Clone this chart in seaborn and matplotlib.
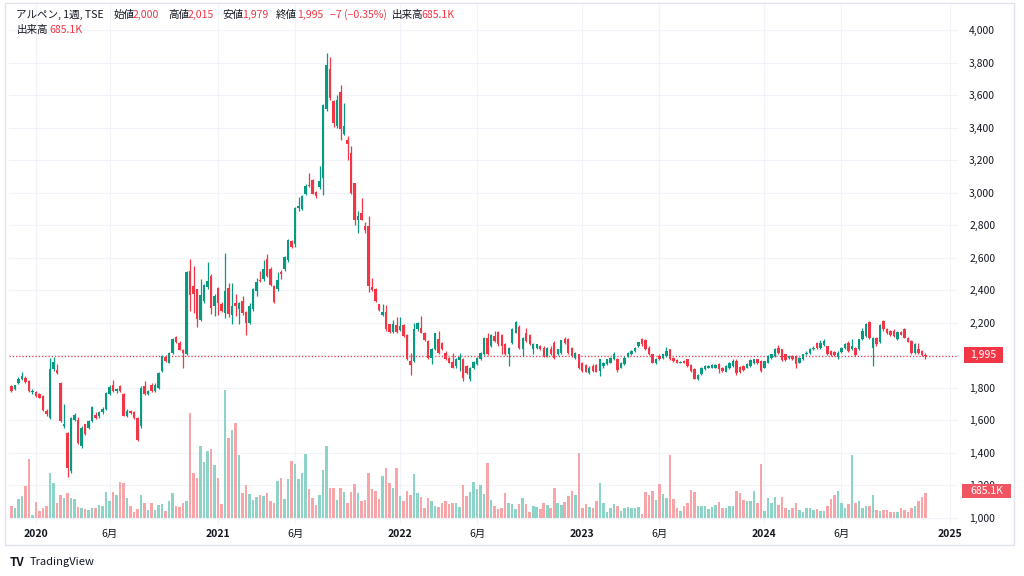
import numpy as np
import pandas as pd
import matplotlib
matplotlib.use('Agg')
import matplotlib.pyplot as plt
from matplotlib.patches import Rectangle
import seaborn as sns

# 週足データ (2019-11-18 の週から 2024-11-18 の週まで)
week_start = '2019-11-18'

opens = [
    1810, 1790, 1830, 1855, 1862, 1845, 1772, 1775, 1765, 1750,
    1660, 1615, 1915, 1910, 1830, 1565, 1525, 1290, 1605, 1605,
    1440, 1575, 1555, 1595, 1635, 1625, 1650, 1670, 1765, 1820,
    1780, 1810, 1765, 1625, 1660, 1650, 1615, 1565, 1810, 1765,
    1820, 1780, 1800, 1905, 1990, 1955, 2015, 2110, 2075, 2035,
    2010, 2517, 2425, 2405, 2220, 2333, 2420, 2490, 2302, 2415,
    2313, 2262, 2415, 2246, 2319, 2286, 2337, 2266, 2200, 2282,
    2395, 2466, 2470, 2593, 2532, 2425, 2405, 2511, 2528, 2585,
    2701, 2687, 2906, 2900, 2994, 3049, 3080, 3002, 3035, 3090,
    3513, 3759, 3566, 3411, 3622, 3362, 3321, 3247, 3059, 2834,
    2875, 2797, 2797, 2421, 2409, 2313, 2245, 2265, 2190, 2143,
    2184, 2155, 2184, 2128, 1965, 1965, 2159, 2169, 2139, 2088,
    1985, 2036, 2098, 2077, 2016, 1985, 1958, 1934, 1971, 1979,
    1934, 1852, 1924, 1944, 1975, 2006, 2108, 2057, 2118, 2143,
    2122, 2067, 2006, 2077, 2139, 2175, 2036, 2139, 2122, 2036,
    2046, 2057, 2046, 1995, 2040, 2077, 2006, 2016, 2102, 2102,
    2046, 1985, 2006, 1954, 1938, 1893, 1934, 1938, 1903, 1934,
    1944, 1954, 1975, 1975, 1924, 1944, 1995, 2006, 2026, 2057,
    2098, 2093, 2046, 2006, 1954, 1995, 1985, 1995, 2036, 1985,
    1971, 1954, 1965, 1975, 1938, 1914, 1856, 1883, 1914, 1924,
    1924, 1924, 1948, 1924, 1900, 1920, 1934, 1965, 1930, 1934,
    1924, 1934, 1950, 1975, 1965, 1924, 1954, 1985, 1995, 2046,
    2036, 2006, 1985, 1995, 1995, 1954, 1975, 2006, 2016, 2036,
    2077, 2046, 2061, 2057, 2026, 2020, 1990, 2020, 2046, 2077,
    2040, 2046, 2036, 2098, 2118, 2204, 2046, 2108, 2081, 2210,
    2159, 2149, 2149, 2098, 2143, 2159, 2108, 2088, 2016, 2040,
    2026, 2000,
]

highs = [
    1815, 1820, 1865, 1898, 1875, 1850, 1790, 1780, 1770, 1755,
    1670, 1985, 1990, 1945, 1835, 1700, 1530, 1620, 1645, 1620,
    1565, 1580, 1600, 1690, 1650, 1660, 1680, 1775, 1815, 1850,
    1800, 1815, 1770, 1670, 1665, 1655, 1620, 1810, 1840, 1785,
    1830, 1830, 1895, 2000, 2000, 2020, 2105, 2120, 2090, 2040,
    2520, 2593, 2552, 2410, 2470, 2440, 2573, 2500, 2380, 2420,
    2330, 2630, 2446, 2446, 2375, 2330, 2364, 2270, 2320, 2415,
    2476, 2520, 2589, 2620, 2540, 2430, 2511, 2525, 2610, 2715,
    2712, 2910, 2975, 2985, 3055, 3120, 3085, 3010, 3162, 3545,
    3861, 3832, 3570, 3601, 3663, 3550, 3350, 3284, 3060, 2885,
    2967, 2820, 2855, 2476, 2415, 2318, 2318, 2310, 2195, 2215,
    2235, 2235, 2190, 2130, 2016, 2200, 2205, 2241, 2145, 2095,
    2045, 2139, 2150, 2085, 2025, 1990, 2016, 1985, 2016, 1985,
    1940, 1930, 1965, 1990, 2020, 2115, 2139, 2130, 2149, 2150,
    2130, 2075, 2050, 2165, 2210, 2185, 2115, 2170, 2130, 2075,
    2070, 2065, 2055, 2050, 2057, 2087, 2040, 2095, 2110, 2105,
    2050, 2020, 2010, 1960, 1945, 1935, 1945, 1945, 1980, 1960,
    1980, 1990, 2020, 1985, 1960, 1995, 2020, 2035, 2050, 2085,
    2105, 2100, 2055, 2010, 1985, 2010, 2010, 2050, 2040, 1990,
    1975, 1965, 1970, 1980, 1945, 1920, 1885, 1930, 1940, 1940,
    1945, 1945, 1955, 1930, 1940, 1960, 1975, 1975, 1935, 1940,
    1955, 1975, 1980, 1980, 1970, 1965, 2000, 2010, 2045, 2061,
    2040, 2010, 1998, 2000, 2000, 1990, 2010, 2025, 2045, 2060,
    2085, 2095, 2100, 2060, 2035, 2025, 2025, 2050, 2075, 2090,
    2100, 2050, 2100, 2170, 2200, 2210, 2115, 2115, 2190, 2216,
    2165, 2155, 2160, 2150, 2150, 2165, 2115, 2095, 2075, 2073,
    2030, 2015,
]

lows = [
    1775, 1785, 1825, 1848, 1830, 1775, 1765, 1745, 1735, 1660,
    1630, 1610, 1905, 1885, 1590, 1555, 1255, 1275, 1595, 1455,
    1430, 1510, 1550, 1590, 1610, 1615, 1640, 1665, 1755, 1775,
    1770, 1775, 1625, 1620, 1640, 1610, 1475, 1555, 1755, 1755,
    1775, 1775, 1795, 1900, 1960, 1950, 2010, 2075, 2030, 1925,
    2000, 2272, 2262, 2176, 2210, 2320, 2410, 2255, 2240, 2250,
    2265, 2230, 2235, 2190, 2240, 2190, 2250, 2125, 2195, 2275,
    2365, 2450, 2460, 2480, 2425, 2320, 2395, 2470, 2520, 2575,
    2660, 2665, 2885, 2895, 2985, 3035, 2990, 2970, 3025, 2988,
    3505, 3570, 3403, 3400, 3325, 3355, 3202, 2990, 2800, 2752,
    2830, 2750, 2390, 2395, 2325, 2270, 2240, 2150, 2135, 2138,
    2135, 2150, 2115, 1970, 1877, 1960, 2150, 2135, 2088, 1980,
    1944, 2030, 2010, 2030, 1970, 1950, 1920, 1925, 1905, 1842,
    1885, 1842, 1915, 1940, 1970, 2000, 2000, 2050, 2080, 2060,
    2006, 2000, 1934, 2070, 2135, 2040, 1995, 2080, 2065, 2006,
    2040, 2030, 1990, 1990, 2000, 1980, 2000, 2010, 2070, 2010,
    1990, 1980, 1914, 1900, 1895, 1885, 1900, 1895, 1873, 1925,
    1940, 1950, 1970, 1900, 1920, 1940, 1990, 2000, 2020, 2050,
    2060, 2035, 2000, 1950, 1945, 1970, 1980, 1990, 1970, 1960,
    1950, 1950, 1950, 1930, 1900, 1852, 1850, 1880, 1910, 1920,
    1920, 1920, 1889, 1900, 1895, 1915, 1930, 1880, 1890, 1905,
    1920, 1930, 1945, 1945, 1900, 1920, 1950, 1980, 1990, 2010,
    1965, 1965, 1980, 1970, 1925, 1950, 1970, 2000, 2010, 2030,
    2040, 2040, 2055, 2000, 1995, 1995, 1975, 2015, 2040, 2020,
    2035, 1995, 2030, 2095, 2110, 2100, 1934, 2060, 2075, 2150,
    2130, 2120, 2115, 2095, 2125, 2105, 2080, 2010, 2010, 2010,
    1995, 1979,
]

closes = [
    1780, 1815, 1855, 1870, 1838, 1780, 1782, 1752, 1740, 1665,
    1640, 1915, 1960, 1892, 1595, 1575, 1310, 1612, 1635, 1460,
    1555, 1515, 1595, 1685, 1615, 1650, 1670, 1770, 1805, 1780,
    1795, 1780, 1630, 1660, 1645, 1615, 1480, 1800, 1760, 1780,
    1780, 1820, 1890, 1995, 1965, 2015, 2100, 2080, 2035, 2015,
    2515, 2368, 2374, 2225, 2368, 2432, 2460, 2292, 2364, 2323,
    2272, 2395, 2252, 2303, 2302, 2319, 2262, 2200, 2302, 2409,
    2450, 2456, 2528, 2487, 2430, 2327, 2466, 2497, 2605, 2711,
    2667, 2906, 2920, 2981, 3039, 3043, 2994, 2977, 3070, 3540,
    3785, 3581, 3427, 3570, 3391, 3411, 3301, 2998, 2830, 2854,
    2834, 2769, 2425, 2401, 2333, 2278, 2265, 2159, 2143, 2190,
    2143, 2180, 2118, 1975, 1938, 2159, 2200, 2139, 2093, 1985,
    2040, 2139, 2016, 2036, 1975, 1954, 1924, 1975, 1991, 1862,
    1893, 1924, 1958, 1985, 2016, 2108, 2006, 2122, 2088, 2067,
    2057, 2006, 2047, 2159, 2204, 2047, 2108, 2088, 2067, 2067,
    2067, 2036, 1995, 2046, 2006, 1985, 2036, 2093, 2077, 2016,
    1995, 2016, 1924, 1903, 1900, 1924, 1903, 1900, 1975, 1954,
    1975, 1985, 2006, 1909, 1954, 1985, 2016, 2026, 2046, 2081,
    2067, 2040, 2006, 1954, 1975, 1975, 2006, 2026, 1975, 1965,
    1954, 1958, 1954, 1934, 1903, 1856, 1877, 1924, 1934, 1934,
    1938, 1938, 1914, 1903, 1934, 1954, 1965, 1889, 1900, 1910,
    1948, 1970, 1975, 1950, 1903, 1965, 1995, 2006, 2040, 2016,
    1971, 1971, 1995, 1975, 1944, 1985, 2006, 2016, 2036, 2046,
    2046, 2077, 2087, 2006, 2000, 2000, 2016, 2046, 2067, 2026,
    2060, 2000, 2098, 2149, 2190, 2108, 2108, 2067, 2184, 2159,
    2139, 2128, 2118, 2143, 2128, 2108, 2081, 2016, 2067, 2016,
    2002, 1995,
]

# 出来高 (千株)
volumes_k = [
    329, 283, 520, 603, 876, 1607, 82, 438, 192, 265,
    329, 1223, 968, 420, 630, 539, 694, 539, 520, 310,
    265, 247, 210, 283, 265, 356, 329, 712, 475, 712,
    630, 986, 968, 539, 329, 164, 237, 630, 420, 210,
    402, 219, 356, 383, 192, 475, 694, 338, 292, 420,
    475, 2867, 1242, 1105, 1981, 1543, 1844, 1890, 1452, 1105,
    383, 3506, 2200, 2410, 2593, 1726, 676, 895, 657, 493,
    584, 621, 603, 676, 466, 402, 1013, 1086, 511, 1068,
    1552, 1479, 1068, 1223, 1754, 785, 539, 356, 630, 1315,
    1972, 813, 813, 493, 813, 721, 420, 721, 931, 676,
    475, 493, 1242, 794, 739, 520, 1160, 1379, 950, 813,
    1379, 603, 475, 749, 630, 1196, 676, 566, 265, 548,
    475, 329, 292, 420, 475, 383, 402, 402, 310, 904,
    612, 703, 977, 794, 904, 657, 1516, 493, 329, 237,
    274, 694, 420, 383, 247, 383, 539, 383, 174, 320,
    310, 247, 402, 347, 265, 813, 420, 365, 438, 612,
    749, 630, 1790, 283, 374, 310, 283, 475, 950, 402,
    164, 274, 374, 329, 201, 283, 292, 274, 283, 301,
    110, 712, 630, 749, 493, 922, 657, 539, 1726, 520,
    283, 201, 338, 402, 767, 703, 338, 338, 338, 247,
    310, 356, 447, 265, 283, 338, 338, 749, 676, 493,
    475, 456, 730, 420, 1470, 192, 539, 402, 584, 356,
    566, 283, 219, 274, 402, 219, 174, 265, 265, 210,
    247, 192, 192, 329, 530, 630, 749, 402, 265, 383,
    1726, 402, 475, 265, 329, 329, 630, 219, 201, 219,
    219, 174, 164, 174, 283, 219, 174, 265, 329, 475,
    566, 685,
]

tick_dates = ['2020-01-06', '2020-06-01', '2021-01-04', '2021-06-07', '2022-01-03',
              '2022-06-06', '2023-01-02', '2023-06-05', '2024-01-01', '2024-06-03',
              '2025-01-06']
tick_labels = ['2020', '6月', '2021', '6月', '2022', '6月', '2023', '6月', '2024', '6月', '2025']
price_levels = list(range(1000, 4001, 200))

UP = '#089981'
DOWN = '#F23645'
VOL_UP = '#8dd3c7'
VOL_DOWN = '#f8a5a9'

df = pd.DataFrame({'open': opens, 'high': highs, 'low': lows,
                   'close': closes, 'volume': volumes_k})
df['date'] = pd.date_range(week_start, periods=len(df), freq='7D')
df['x'] = np.arange(len(df))
df['dir'] = np.where(df['close'] >= df['open'], 'up', 'down')
start = pd.Timestamp(week_start)
tick_pos = [(pd.Timestamp(d) - start).days / 7 for d in tick_dates]

sns.set_theme(style='white')
plt.rcParams['font.family'] = ['Noto Sans CJK JP', 'DejaVu Sans']

W, H = 1024, 576
def fx(px):
    return px / W
def fy(py):
    return 1 - py / H

fig = plt.figure(figsize=(W / 100, H / 100), dpi=100)
fig.patch.set_facecolor('white')
rect = [fx(9), fy(524), fx(958) - fx(9), fy(4) - fy(524)]

ax = fig.add_axes(rect)
axv = fig.add_axes(rect)
ax.set_zorder(1)
axv.set_zorder(2)
axv.patch.set_visible(False)

# 出来高
sns.barplot(data=df, x='x', y='volume', hue='dir', palette={'up': VOL_UP, 'down': VOL_DOWN},
            native_scale=True, width=0.72, errorbar=None, saturation=1, linewidth=0,
            legend=False, ax=axv)
xlim = (-0.71, 270.3)
axv.set_xlim(xlim)
axv.set_ylim(-164, 14084)
axv.set_axis_off()

# ローソク足
cols = np.where(df['dir'] == 'up', UP, DOWN)
ax.vlines(df['x'], df['low'], df['high'], colors=cols, lw=0.9, zorder=3)
body_lo = np.minimum(df['open'], df['close'])
body_h = np.maximum(np.abs(df['close'] - df['open']), 4)
ax.bar(df['x'], body_h, bottom=body_lo, width=0.7, color=cols, lw=0, zorder=4)

ax.axhline(1995, color=DOWN, lw=0.9, ls=(0, (1, 1.6)), zorder=2)

ax.set_xlim(xlim)
ax.set_ylim(963, 4160)
ax.yaxis.tick_right()
ax.set_yticks(price_levels)
ax.set_yticklabels([f'{v:,}' for v in price_levels])
ax.set_xticks(tick_pos)
ax.set_xticklabels(tick_labels)
for lab in ax.get_xticklabels():
    if lab.get_text().isdigit():
        lab.set_fontweight('bold')
ax.tick_params(axis='y', length=0, pad=8, labelsize=7.5, labelcolor='#131722')
ax.tick_params(axis='x', length=0, pad=3.5, labelsize=7.5, labelcolor='#131722')
ax.grid(True, color='#f0f3fa', lw=0.8)
ax.set_xlabel('')
ax.set_ylabel('')
for s in ax.spines.values():
    s.set_visible(False)

# 枠線
fig.add_artist(Rectangle((fx(5), fy(545)), (1014 - 5) / W, (545 - 3) / H,
                         transform=fig.transFigure, fill=False, ec='#e0e3eb', lw=1))

# 右側の価格ラベル
fig.add_artist(Rectangle((fx(964), fy(363)), 39 / W, 16 / H, transform=fig.transFigure,
                         fc=DOWN, ec='none', zorder=5))
fig.text(fx(983.5), fy(355), '1,995', ha='center', va='center', color='white',
         fontsize=7.5, zorder=6)
fig.add_artist(Rectangle((fx(962), fy(498)), 49 / W, 14 / H, transform=fig.transFigure,
                         fc='#f25562', ec='none', zorder=5))
fig.text(fx(986.5), fy(491), '685.1K', ha='center', va='center', color='white',
         fontsize=7.5, zorder=6)

# 凡例テキスト
header = [
    (16.5, 15, 'アルペン, 1週, TSE', '#131722'),
    (113, 15, '始値', '#131722'), (133, 15, '2,000', DOWN),
    (168, 15, '高値', '#131722'), (188, 15, '2,015', DOWN),
    (222, 15, '安値', '#131722'), (242, 15, '1,979', DOWN),
    (276, 15, '終値', '#131722'), (297, 15, '1,995', DOWN),
    (330, 15, '−7 (−0.35%)', DOWN),
    (392, 15, '出来高', '#131722'), (421, 15, '685.1K', DOWN),
    (16.5, 30, '出来高', '#131722'), (49, 30, '685.1K', DOWN),
]
for px, py, txt, c in header:
    fig.text(fx(px), fy(py), txt, ha='left', va='center', color=c, fontsize=7.6)

fig.text(fx(10), fy(562), 'TV', ha='left', va='center', color='#131722',
         fontsize=8.5, fontweight='bold')
fig.text(fx(30), fy(562), 'TradingView', ha='left', va='center', color='#131722',
         fontsize=8)

fig.savefig('out.png', dpi=100)
